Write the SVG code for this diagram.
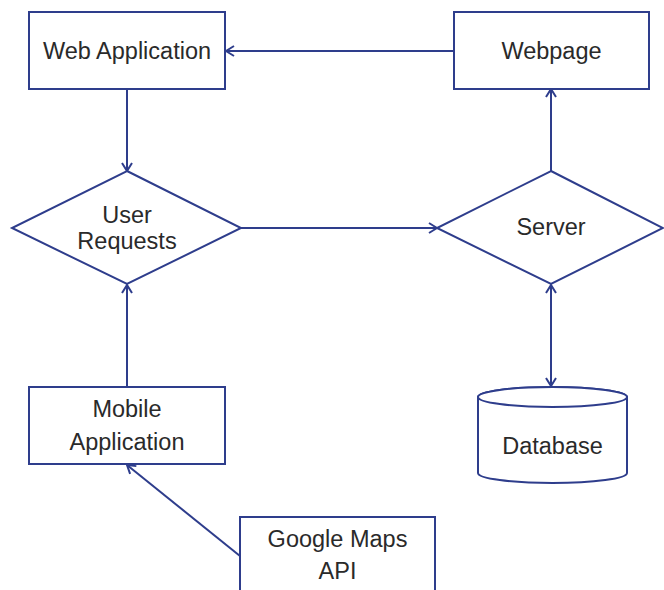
<svg xmlns="http://www.w3.org/2000/svg" width="664" height="590" viewBox="0 0 664 590">
  <style>
    .shape { fill: #ffffff; stroke: #2e3d8c; stroke-width: 2; }
    .edge { fill: none; stroke: #2e3d8c; stroke-width: 2; }
    .label { font-family: "Liberation Sans", Arial, sans-serif; font-size: 23.5px; fill: #2a2a2a; text-anchor: middle; }
  </style>
  <defs>
    <marker id="arrow" viewBox="0 0 10 12" refX="9" refY="6" markerWidth="10" markerHeight="12" markerUnits="userSpaceOnUse" orient="auto-start-reverse">
      <path d="M1,1 L9,6 L1,11" fill="none" stroke="#2e3d8c" stroke-width="2"/>
    </marker>
  </defs>
  <rect width="664" height="590" fill="#ffffff"/>

  <g id="connectors">
    <line class="edge" x1="454" y1="51" x2="226" y2="51" marker-end="url(#arrow)"/>
    <line class="edge" x1="127" y1="89" x2="127" y2="171" marker-end="url(#arrow)"/>
    <line class="edge" x1="241" y1="228" x2="437" y2="228" marker-end="url(#arrow)"/>
    <line class="edge" x1="551" y1="171" x2="551" y2="89" marker-end="url(#arrow)"/>
    <line class="edge" x1="551" y1="285" x2="551" y2="386" marker-start="url(#arrow)" marker-end="url(#arrow)"/>
    <line class="edge" x1="127" y1="387" x2="127" y2="285" marker-end="url(#arrow)"/>
    <line class="edge" x1="240" y1="556" x2="127" y2="465" marker-end="url(#arrow)"/>
  </g>

  <g id="web-application">
    <rect class="shape" x="29" y="12" width="196" height="77"/>
    <text class="label" x="127" y="59">Web Application</text>
  </g>

  <g id="webpage">
    <rect class="shape" x="454" y="12" width="195" height="77"/>
    <text class="label" x="551.5" y="59">Webpage</text>
  </g>

  <g id="user-requests">
    <polygon class="shape" points="127,171 241,228 127,284 12,228"/>
    <text class="label" x="127" y="223">User</text>
    <text class="label" x="127" y="249">Requests</text>
  </g>

  <g id="server">
    <polygon class="shape" points="551,171 663,228 551,284 437,228"/>
    <text class="label" x="551" y="235">Server</text>
  </g>

  <g id="database">
    <path class="shape" d="M478,397 L478,473 A74.5,10 0 0 0 627,473 L627,397 A74.5,10 0 0 0 478,397 Z"/>
    <ellipse class="shape" cx="552.5" cy="397" rx="74.5" ry="10"/>
    <text class="label" x="552.5" y="454">Database</text>
  </g>

  <g id="mobile-application">
    <rect class="shape" x="29" y="387" width="196" height="77"/>
    <text class="label" x="127" y="417">Mobile</text>
    <text class="label" x="127" y="450">Application</text>
  </g>

  <g id="google-maps-api">
    <rect class="shape" x="240" y="517" width="195" height="80"/>
    <text class="label" x="337.5" y="547">Google Maps</text>
    <text class="label" x="337.5" y="579">API</text>
  </g>
</svg>
